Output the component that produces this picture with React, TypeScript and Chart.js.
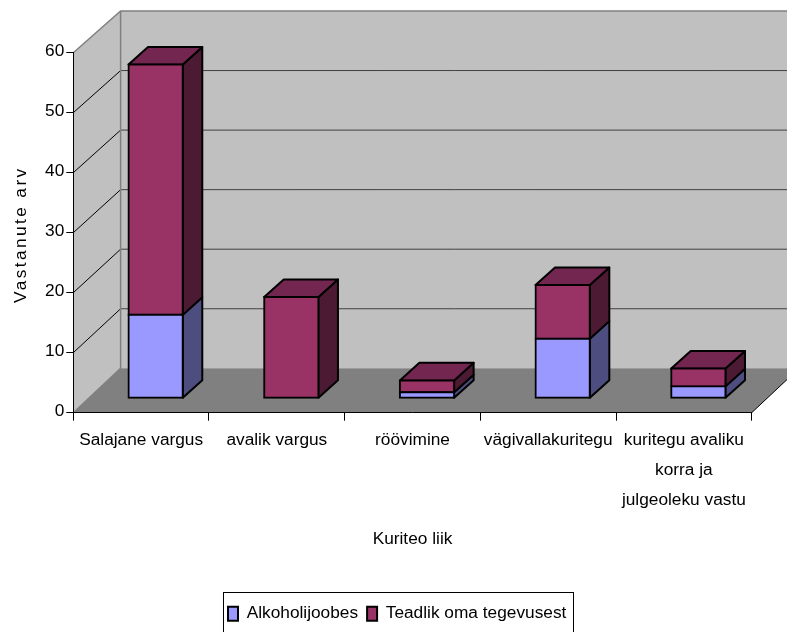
import React, { useEffect, useRef } from "react";
import { Chart, registerables } from "chart.js";

Chart.register(...registerables);

const categories = [
  "Salajane vargus",
  "avalik vargus",
  "röövimine",
  "vägivallakuritegu",
  ["kuritegu avaliku", "korra ja", "julgeoleku vastu"],
];
const alkoholijoobes = [14, 0, 1, 10, 2];
const teadlik = [42, 17, 2, 9, 3];
const yTicks = [0, 10, 20, 30, 40, 50, 60];

const FONT = "'Liberation Sans', Arial, sans-serif";
const FS = 17.3;

const DEPTH_X = 47.3;
const BACK_TOP = 11;
const BACK_FLOOR = 368.3;
const BAR_DX = 14.5;
const BAR_BOTTOM = 398.3;
const BAR_SCALE = 0.9933;
const SIDE_X = 19.5;
const SIDE_Y = -17.7;

const SIDE: Record<string, string> = { "#9999FF": "#4D4D80", "#993366": "#4D1A33" };
const TOP = "#732650";

const scenePlugin = {
  id: "scene3d",
  afterUpdate(chart: any) {
    const s = chart.scales.y;
    if (s && !s.__wrapped) {
      s.__wrapped = true;
      const orig = s.drawTitle.bind(s);
      s.drawTitle = () => {
        const c = chart.ctx;
        c.save();
        (c as any).letterSpacing = "2.4px";
        c.translate(0, 2);
        orig();
        c.restore();
      };
    }
  },
  afterLayout(chart: any) {
    const l = chart.legend;
    if (l) {
      const h = l.height;
      l.left = 219;
      l.right = 640;
      l.width = 421;
      l.top = 596;
      l.bottom = 596 + h;
    }
  },
  beforeDraw(chart: any) {
    const { ctx } = chart;
    const x = chart.scales.x;
    const y = chart.scales.y;
    const left = x.left;
    const right = x.right;
    const bottom = y.bottom;
    const top = y.top;
    const bx = left + DEPTH_X;
    const bxr = right + DEPTH_X;
    const backY = (px: number) =>
      BACK_FLOOR - ((bottom - px) / (bottom - top)) * (BACK_FLOOR - BACK_TOP);

    ctx.save();
    ctx.fillStyle = "#C0C0C0";
    ctx.beginPath();
    ctx.moveTo(left, top);
    ctx.lineTo(bx, BACK_TOP);
    ctx.lineTo(bxr, BACK_TOP);
    ctx.lineTo(bxr, BACK_FLOOR);
    ctx.lineTo(bx, BACK_FLOOR);
    ctx.lineTo(left, bottom);
    ctx.closePath();
    ctx.fill();

    ctx.fillStyle = "#808080";
    ctx.beginPath();
    ctx.moveTo(left, bottom);
    ctx.lineTo(right, bottom);
    ctx.lineTo(bxr, BACK_FLOOR);
    ctx.lineTo(bx, BACK_FLOOR);
    ctx.closePath();
    ctx.fill();

    ctx.lineWidth = 1;
    yTicks.forEach((v) => {
      if (v === 0 || v === 60) return;
      const p = y.getPixelForValue(v);
      const q = backY(p);
      ctx.strokeStyle = "#000000";
      ctx.beginPath();
      ctx.moveTo(left, p);
      ctx.lineTo(bx, q);
      ctx.stroke();
      ctx.strokeStyle = "#404040";
      ctx.beginPath();
      ctx.moveTo(bx, q);
      ctx.lineTo(bxr, q);
      ctx.stroke();
    });

    ctx.strokeStyle = "#808080";
    ctx.lineWidth = 1.5;
    ctx.beginPath();
    ctx.moveTo(left, top);
    ctx.lineTo(bx, BACK_TOP);
    ctx.lineTo(bxr, BACK_TOP);
    ctx.moveTo(bx, BACK_TOP);
    ctx.lineTo(bx, BACK_FLOOR);
    ctx.lineTo(left, bottom);
    ctx.stroke();

    ctx.strokeStyle = "#000000";
    ctx.lineWidth = 1;
    ctx.beginPath();
    ctx.moveTo(right, bottom);
    ctx.lineTo(bxr, BACK_FLOOR);
    ctx.stroke();
    ctx.restore();
  },
  beforeDatasetsDraw(chart: any) {
    const { ctx } = chart;
    const bottom = chart.scales.y.bottom;
    ctx.save();
    ctx.translate(BAR_DX, BAR_BOTTOM);
    ctx.scale(1, BAR_SCALE);
    ctx.translate(0, -bottom);

    ctx.lineWidth = 2;
    ctx.lineJoin = "round";
    ctx.strokeStyle = "#000000";
    const n = chart.data.labels.length;
    for (let i = 0; i < n; i++) {
      chart.data.datasets.forEach((ds: any, di: number) => {
        const el = chart.getDatasetMeta(di).data[i];
        const v = ds.data[i];
        if (!el || !v) return;
        const r = el.x + el.width / 2;
        const l = el.x - el.width / 2;
        ctx.fillStyle = SIDE[ds.backgroundColor];
        ctx.beginPath();
        ctx.moveTo(r, el.base);
        ctx.lineTo(r + SIDE_X, el.base + SIDE_Y);
        ctx.lineTo(r + SIDE_X, el.y + SIDE_Y);
        ctx.lineTo(r, el.y);
        ctx.closePath();
        ctx.fill();
        ctx.stroke();
        if (di === chart.data.datasets.length - 1) {
          ctx.fillStyle = TOP;
          ctx.beginPath();
          ctx.moveTo(l, el.y);
          ctx.lineTo(l + SIDE_X, el.y + SIDE_Y);
          ctx.lineTo(r + SIDE_X, el.y + SIDE_Y);
          ctx.lineTo(r, el.y);
          ctx.closePath();
          ctx.fill();
          ctx.stroke();
        }
      });
    }
  },
  afterDatasetsDraw(chart: any) {
    chart.ctx.restore();
  },
  afterDraw(chart: any) {
    const { ctx } = chart;
    ctx.save();
    ctx.strokeStyle = "#000000";
    ctx.lineWidth = 1;
    ctx.strokeRect(223.5, 592.5, 350, 50);
    ctx.restore();
  },
};

export default function App() {
  const ref = useRef<HTMLCanvasElement>(null);
  useEffect(() => {
    const chart = new Chart(ref.current as HTMLCanvasElement, {
      type: "bar",
      data: {
        labels: categories as any,
        datasets: [
          {
            label: "Alkoholijoobes",
            data: alkoholijoobes,
            backgroundColor: "#9999FF",
            borderColor: "#000000",
            borderWidth: 2,
            borderSkipped: false,
            inflateAmount: 1,
            clip: false,
          } as any,
          {
            label: "Teadlik oma tegevusest",
            data: teadlik,
            backgroundColor: "#993366",
            borderColor: "#000000",
            borderWidth: 2,
            borderSkipped: false,
            inflateAmount: 1,
            clip: false,
          } as any,
        ],
      },
      options: {
        animation: false,
        responsive: false,
        layout: { padding: { top: 52.7, right: 35.3, left: 0, bottom: 0 } },
        datasets: { bar: { barPercentage: 0.4, categoryPercentage: 1 } },
        plugins: {
          tooltip: { enabled: false },
          legend: {
            position: "bottom",
            align: "start",
            labels: {
              boxWidth: 10,
              boxHeight: 14,
              padding: 9,
              color: "#000000",
              font: { family: FONT, size: FS },
            },
          },
        },
        scales: {
          x: {
            stacked: true,
            offset: true,
            grid: { offset: true, drawOnChartArea: false, drawTicks: true, tickLength: 8, color: "#000000" },
            border: { display: true, color: "#000000", width: 1 },
            ticks: {
              color: "#000000",
              maxRotation: 0,
              autoSkip: false,
              padding: 5,
              font: { family: FONT, size: FS, lineHeight: 1.73 },
            },
            title: {
              display: true,
              text: "Kuriteo liik",
              color: "#000000",
              font: { family: FONT, size: FS },
              padding: { top: 0, bottom: 46 },
            },
            afterFit(s: any) {
              s.height = 632 - 412.7 - (s.chart.legend?.height ?? 0);
            },
          },
          y: {
            stacked: true,
            min: 0,
            max: 60,
            grid: { drawOnChartArea: false, drawTicks: true, tickLength: 7, color: "#000000" },
            border: { display: true, color: "#000000", width: 1 },
            ticks: {
              stepSize: 10,
              color: "#000000",
              padding: 2,
              labelOffset: -1.5,
              font: { family: FONT, size: FS },
            },
            title: {
              display: true,
              text: "Vastanute arv",
              color: "#000000",
              font: { family: FONT, size: FS },
              padding: { top: 11, bottom: 0 },
            },
            afterFit(s: any) {
              s.width = 73.3;
            },
          },
        },
      } as any,
      plugins: [scenePlugin as any],
    });
    return () => chart.destroy();
  }, []);
  return (
    <div style={{ position: "fixed", left: 0, top: 0, width: 787, height: 632, background: "#fff" }}>
      <canvas ref={ref} width={787} height={632} style={{ display: "block" }} />
    </div>
  );
}
